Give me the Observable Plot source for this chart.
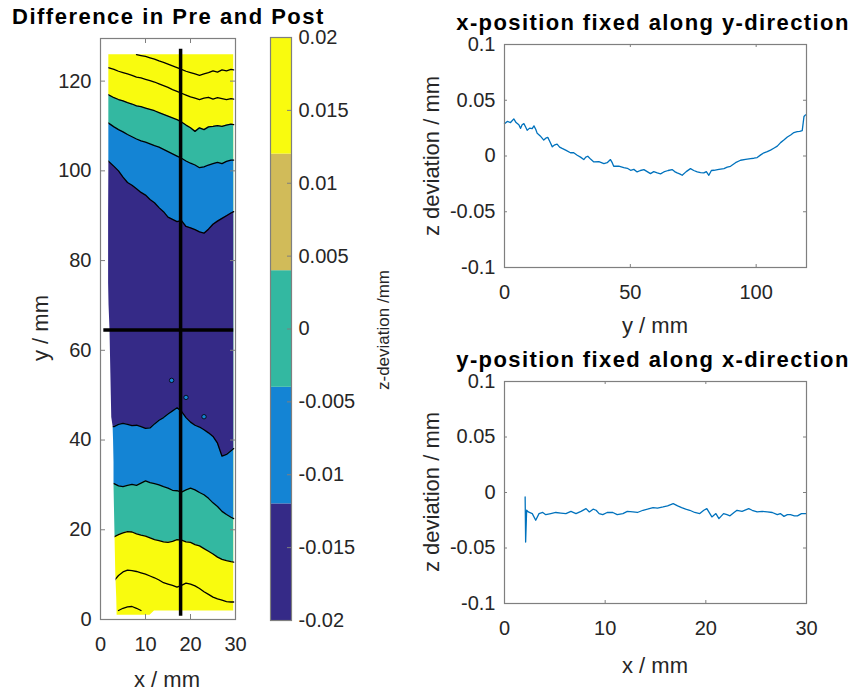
<!DOCTYPE html>
<html><head><meta charset="utf-8">
<script src="https://cdn.jsdelivr.net/npm/d3@7"></script>
<script src="https://cdn.jsdelivr.net/npm/@observablehq/plot@0.6"></script>
<style>
body{margin:0;background:#fff;}
#wrap{position:relative;width:860px;height:694px;overflow:hidden;font-family:"Liberation Sans",Arial,Helvetica,sans-serif;}
#wrap svg{position:absolute;left:0;top:0;}
.t{position:absolute;white-space:nowrap;line-height:1;}
</style></head><body><div id="wrap"></div>
<script>
// ---------- colour levels (parula, 5 levels) ----------
const cbLevels = [-0.02, -0.012, -0.004, 0.004, 0.012, 0.02];
const cbColors = ["#352a87", "#1484d4", "#33b8a1", "#d1bb59", "#f9fb0e"];
const cbTicks = [-0.02, -0.015, -0.01, -0.005, 0, 0.005, 0.01, 0.015, 0.02];

// ---------- contour map: boundaries read along x (mm) ----------
const xs = [1.7,3,4,5,6,7,8,9,10,11,12,13,14,15,16,17,18,19,20,21,22,23,24,25,26,27,28,29,29.6];
const dataTop = 125.9;
const dataBottom = [0.95,0.95,0.95,0.95,0.95,0.95,0.95,0.95,0.95,0.95,1.9,1.9,1.9,1.9,1.9,1.9,1.9,1.9,1.9,1.9,1.9,1.9,1.9,1.9,1.9,1.9,1.9,1.9,1.9];
const topLine1 = [null,null,null,null,null,null,125.9,125.7,125.5,125.2,124.9,124.5,124.2,123.8,123.4,123.0,122.6,122.2,121.9,121.6,121.3,121.6,121.9,122.3,122.0,122.5,122.3,122.6,122.5];
const topLine2 = [123.0,122.6,122.2,121.9,121.6,121.3,120.9,120.7,120.4,120.1,119.8,119.4,119.0,118.6,118.1,117.7,117.3,116.9,116.5,116.2,115.9,116.2,116.4,116.0,116.3,116.1,115.9,116.1,116.0];
const topYellowTeal = [117.0,116.3,115.9,115.6,115.2,114.9,114.5,114.3,114.0,113.7,113.4,113.0,112.6,112.2,111.8,111.4,110.9,110.2,109.6,108.8,109.6,109.2,109.8,109.9,110.1,109.9,110.2,110.4,110.3];
const topTealBlue = [110.7,109.8,109.2,108.7,108.1,107.6,107.1,106.7,106.4,106.0,105.6,105.3,104.8,104.3,103.8,103.3,102.8,102.2,101.7,101.3,100.7,100.9,101.3,101.6,101.9,101.6,102.1,102.4,102.4];
const topBlueDark = [102.2,101.0,100.0,98.6,97.4,96.8,96.0,95.2,94.6,93.6,92.9,91.8,90.9,89.7,89.2,88.7,88.9,87.6,87.3,86.9,86.4,86.1,87.0,88.1,88.8,89.4,90.0,90.6,90.9];
const botBlueDark = [43.0,43.0,43.5,43.7,43.5,43.2,43.3,43.0,42.6,42.7,43.6,44.4,45.0,45.8,46.5,47.2,46.4,45.0,44.0,43.3,42.9,42.3,41.6,40.8,39.3,36.4,36.8,37.6,38.1];
const botTealBlue = [30.5,30.3,29.8,29.6,29.9,30.1,29.9,30.4,30.9,30.5,30.3,30.0,29.6,29.3,28.8,28.7,28.4,28.9,29.3,28.9,28.3,27.8,27.0,26.0,25.2,24.1,23.4,22.8,22.5];
const botYellowTeal = [18.3,18.4,18.9,19.3,19.6,19.5,19.1,18.8,18.6,18.2,17.8,17.6,17.3,17.2,17.4,17.8,17.7,17.3,17.2,16.7,16.4,15.8,15.2,14.6,13.9,13.4,13.1,12.9,12.8];
const botLineA = [null,8.6,9.8,10.6,11.0,10.9,10.7,10.4,10.1,9.7,9.3,8.8,8.2,7.9,7.6,7.2,7.6,8.1,7.9,7.5,6.9,6.2,5.6,5.0,4.6,4.3,4.0,3.9,3.9];
const botLineB = [null,null,2.0,2.5,2.8,2.9,2.5,2.0,null,null,null,null,null,null,null,null,null,null,null,null,null,null,null,null,null,null,null,null,null];
// left edge of the measured area (x as function of y)
const edgeY = [0.9,5,10,15,20,25,30,35,40,43,45,50,55,60,65,70,75,80,90,100,110,120,126];
const edgeX = [3.7,3.6,3.4,3.3,3.2,3.1,3.0,3.0,2.9,2.8,2.5,2.4,2.3,2.2,2.1,1.9,1.8,1.8,1.8,1.85,1.85,1.85,1.85];
// small islands
const islandX = [15.8, 19.0, 23.0];
const islandY = [53.3, 49.5, 45.2];
// section lines
const cutX = 17.8, cutXRange = [0.7, 127.1];
const cutY = 64.5, cutYRange = [0.74, 29.6];

// ---------- profile along y (x fixed) ----------
const profYpos = [0,1.1,2.4,3.7,4.6,5.7,6.4,7.0,7.7,8.4,9.0,10.0,11.0,11.7,12.4,13.0,14.2,15.6,16.4,17.2,18.0,19.0,20.0,20.9,21.9,22.9,24.5,26.2,27.5,28.9,30.2,31.5,32.3,33.1,34.3,35.5,37.5,39.5,40.8,42.1,42.8,43.4,45.4,47.4,48.8,50.1,51.4,52.7,54.0,55.4,56.7,58.0,59.3,60.7,62.0,63.3,65.0,66.6,67.6,68.6,69.6,70.6,72.2,73.9,75.2,76.6,77.9,79.2,80.2,81.2,82.2,83.2,85.2,87.2,88.5,89.8,91.8,93.8,95.8,97.8,99.1,100.4,101.8,103.1,104.4,105.7,107.0,108.4,109.7,111.0,112.4,113.7,115.0,116.3,117.3,118.3,118.7,119.0,119.6];
const profYdev = [0.029,0.031,0.030,0.0333,0.030,0.028,0.0248,0.028,0.029,0.026,0.023,0.025,0.0245,0.027,0.024,0.0203,0.018,0.0143,0.016,0.0167,0.013,0.0082,0.010,0.0107,0.008,0.0068,0.005,0.0029,0.003,0.0007,-0.001,-0.0032,-0.001,-0.0002,-0.003,-0.0053,-0.005,-0.0068,-0.006,-0.0032,-0.006,-0.0092,-0.009,-0.0104,-0.011,-0.0128,-0.012,-0.0143,-0.013,-0.0122,-0.014,-0.0158,-0.014,-0.0152,-0.016,-0.0143,-0.013,-0.0122,-0.014,-0.0152,-0.016,-0.0173,-0.014,-0.0113,-0.013,-0.0143,-0.015,-0.0152,-0.014,-0.0173,-0.013,-0.0128,-0.012,-0.0113,-0.010,-0.0092,-0.006,-0.0038,-0.003,-0.0023,-0.002,-0.0014,0.001,0.0029,0.004,0.0053,0.007,0.0089,0.012,0.0143,0.017,0.0188,0.021,0.0218,0.022,0.0227,0.030,0.0354,0.0369];

// ---------- profile along x (y fixed) ----------
const profXpos = [2.05,2.1,2.2,2.36,2.76,3.1,3.43,3.8,4.1,4.6,5.1,5.6,6.1,6.6,7.1,7.6,8.1,8.43,8.8,9.1,9.4,9.76,10.2,10.76,11.2,11.76,12.2,12.76,13.2,13.76,14.2,14.76,15.2,15.76,16.2,16.76,17.2,17.6,18.0,18.4,18.9,19.4,19.8,20.1,20.6,21.0,21.3,21.76,22.1,22.4,22.8,23.1,23.6,24.26,24.6,25.1,25.6,26.1,26.6,27.1,27.4,27.76,28.1,28.4,28.8,29.1,29.5,29.93];
const profXdev = [-0.004,-0.0446,-0.016,-0.0175,-0.019,-0.025,-0.019,-0.018,-0.020,-0.019,-0.018,-0.0185,-0.019,-0.017,-0.019,-0.017,-0.0145,-0.0175,-0.015,-0.016,-0.019,-0.020,-0.018,-0.018,-0.020,-0.019,-0.017,-0.0175,-0.018,-0.016,-0.015,-0.0136,-0.014,-0.013,-0.012,-0.0100,-0.012,-0.0136,-0.015,-0.016,-0.018,-0.019,-0.016,-0.0145,-0.022,-0.019,-0.0235,-0.019,-0.020,-0.021,-0.018,-0.016,-0.017,-0.0145,-0.016,-0.0175,-0.017,-0.0175,-0.018,-0.020,-0.019,-0.0215,-0.020,-0.020,-0.021,-0.021,-0.019,-0.019];

// ---------- tick values ----------
const mapXTicks = [0, 10, 20, 30];
const mapYTicks = [0, 20, 40, 60, 80, 100, 120];
const devTicks = [-0.1, -0.05, 0, 0.05, 0.1];
const posYTicks = [0, 50, 100];
const posXTicks = [0, 10, 20, 30];

// ---------- helpers ----------
const W = 860, H = 694;
const wrap = document.getElementById("wrap");
const FONT = '"Liberation Sans", Arial, Helvetica, sans-serif';
const AX = "#7f7f7f", TXT = "#262626";
function frameOpts(l, r, t, b) {
  return {width: W, height: H, marginLeft: l, marginRight: W - r, marginTop: t, marginBottom: H - b,
    style: {background: "transparent", overflow: "visible", fontFamily: FONT, fontSize: "20px", color: TXT}};
}
function matlabAxes({xTicks, yTicks, fw, fh, len}) {
  return [
    Plot.tickX(xTicks, {stroke: AX, insetTop: fh - len}),
    Plot.tickX(xTicks, {stroke: AX, insetBottom: fh - len}),
    Plot.tickY(yTicks, {stroke: AX, insetRight: fw - len}),
    Plot.tickY(yTicks, {stroke: AX, insetLeft: fw - len}),
    Plot.frame({stroke: AX, strokeWidth: 1.2}),
    Plot.axisX(xTicks, {tickSize: 0, tickPadding: 17, tickFormat: d => String(d), label: null}),
    Plot.axisY(yTicks, {tickSize: 0, tickPadding: 9, tickFormat: d => String(d), label: null})
  ];
}
function addText(txt, x, y, {size = 22, bold = false, rot = 0, left = false, color = TXT, spacing = 0} = {}) {
  const d = document.createElement("div");
  d.className = "t";
  d.textContent = txt;
  d.style.left = x + "px";
  d.style.top = y + "px";
  d.style.fontSize = size + "px";
  d.style.fontWeight = bold ? "bold" : "normal";
  d.style.letterSpacing = spacing + "px";
  d.style.color = color;
  d.style.transform = `translate(${left ? "0" : "-50%"},-50%) rotate(${rot}deg)`;
  wrap.appendChild(d);
}

// ---------- contour map ----------
const bandRows = xs.map((x, i) => ({
  x, bottom: dataBottom[i], top: dataTop,
  ytB: botYellowTeal[i], ytT: topYellowTeal[i],
  tbB: botTealBlue[i], tbT: topTealBlue[i],
  bdB: botBlueDark[i], bdT: topBlueDark[i]
}));
const contourSets = {topLine1, topLine2, topYellowTeal, topTealBlue, topBlueDark, botBlueDark, botTealBlue, botYellowTeal, botLineA, botLineB};
const contourRows = Object.entries(contourSets).flatMap(([k, arr]) => arr.map((v, i) => ({x: xs[i], y: v, k})));
const edgeRows = edgeY.map((y, i) => ({y, x: edgeX[i]}));
const islands = islandX.map((x, i) => ({x, y: islandY[i]}));

const L = {l: 100, r: 235, t: 38, b: 619};
wrap.appendChild(Plot.plot({
  ...frameOpts(L.l, L.r, L.t, L.b),
  x: {domain: [0, 30]},
  y: {domain: [0, 129.5]},
  marks: [
    Plot.areaY(bandRows, {x: "x", y1: "bottom", y2: "top", fill: cbColors[4]}),
    Plot.areaY(bandRows, {x: "x", y1: "ytB", y2: "ytT", fill: cbColors[2]}),
    Plot.areaY(bandRows, {x: "x", y1: "tbB", y2: "tbT", fill: cbColors[1]}),
    Plot.areaY(bandRows, {x: "x", y1: "bdB", y2: "bdT", fill: cbColors[0]}),
    Plot.dot(islands, {x: "x", y: "y", r: 2.2, fill: cbColors[1], stroke: "#000", strokeWidth: 0.8}),
    Plot.line(contourRows, {x: "x", y: "y", z: "k", stroke: "#000", strokeWidth: 1.3}),
    Plot.areaX(edgeRows, {y: "y", x1: d => 0, x2: "x", fill: "#fff"}),
    Plot.ruleX([cutX], {y1: cutXRange[0], y2: cutXRange[1], stroke: "#000", strokeWidth: 3.5}),
    Plot.ruleY([cutY], {x1: cutYRange[0], x2: cutYRange[1], stroke: "#000", strokeWidth: 3.5}),
    ...matlabAxes({xTicks: mapXTicks, yTicks: mapYTicks, fw: L.r - L.l, fh: L.b - L.t, len: 5})
  ]
}));

// ---------- colour bar ----------
const cbRows = cbColors.map((c, i) => ({lo: cbLevels[i], hi: cbLevels[i + 1], c}));
const C = {l: 270, r: 291, t: 37, b: 620};
wrap.appendChild(Plot.plot({
  ...frameOpts(C.l, C.r, C.t, C.b),
  x: {domain: [0, 1], axis: null},
  y: {domain: [cbLevels[0], cbLevels[cbLevels.length - 1]]},
  color: {type: "identity"},
  marks: [
    Plot.rect(cbRows, {x1: d => 0, x2: d => 1, y1: "lo", y2: "hi", fill: "c"}),
    Plot.tickY(cbTicks, {stroke: AX, insetLeft: C.r - C.l - 4}),
    Plot.frame({stroke: AX, strokeWidth: 1.2}),
    Plot.axisY(cbTicks, {anchor: "right", tickSize: 0, tickPadding: 7, tickFormat: d => String(d), label: null})
  ]
}));

// ---------- profile along y ----------
const P1 = {l: 504, r: 806, t: 44, b: 267};
wrap.appendChild(Plot.plot({
  ...frameOpts(P1.l, P1.r, P1.t, P1.b),
  x: {domain: [0, 120]},
  y: {domain: [-0.1, 0.1]},
  marks: [
    Plot.line(profYpos.map((p, i) => ({p, v: profYdev[i]})), {x: "p", y: "v", stroke: "#0072bd", strokeWidth: 1.3}),
    ...matlabAxes({xTicks: posYTicks, yTicks: devTicks, fw: P1.r - P1.l, fh: P1.b - P1.t, len: 3})
  ]
}));

// ---------- profile along x ----------
const P2 = {l: 504, r: 806, t: 381, b: 603};
wrap.appendChild(Plot.plot({
  ...frameOpts(P2.l, P2.r, P2.t, P2.b),
  x: {domain: [0, 30]},
  y: {domain: [-0.1, 0.1]},
  marks: [
    Plot.line(profXpos.map((p, i) => ({p, v: profXdev[i]})), {x: "p", y: "v", stroke: "#0072bd", strokeWidth: 1.3}),
    ...matlabAxes({xTicks: posXTicks, yTicks: devTicks, fw: P2.r - P2.l, fh: P2.b - P2.t, len: 3})
  ]
}));

// ---------- titles and labels ----------
addText("Difference in Pre and Post", 12, 17, {size: 22, bold: true, color: "#000", left: true, spacing: 1.5});
addText("x-position fixed along y-direction", 653, 23, {size: 22, bold: true, color: "#000", spacing: 1.4});
addText("y-position fixed along x-direction", 653, 360, {size: 22, bold: true, color: "#000", spacing: 1.4});
addText("y / mm", 41, 328, {size: 22, rot: -90});
addText("x / mm", 167, 680, {size: 22});
addText("z-deviation /mm", 383, 330, {size: 17, rot: -90});
addText("z deviation / mm", 432, 156, {size: 22, rot: -90});
addText("y / mm", 655, 326, {size: 22});
addText("z deviation / mm", 432, 492, {size: 22, rot: -90});
addText("x / mm", 655, 666, {size: 22});
</script></body></html>
